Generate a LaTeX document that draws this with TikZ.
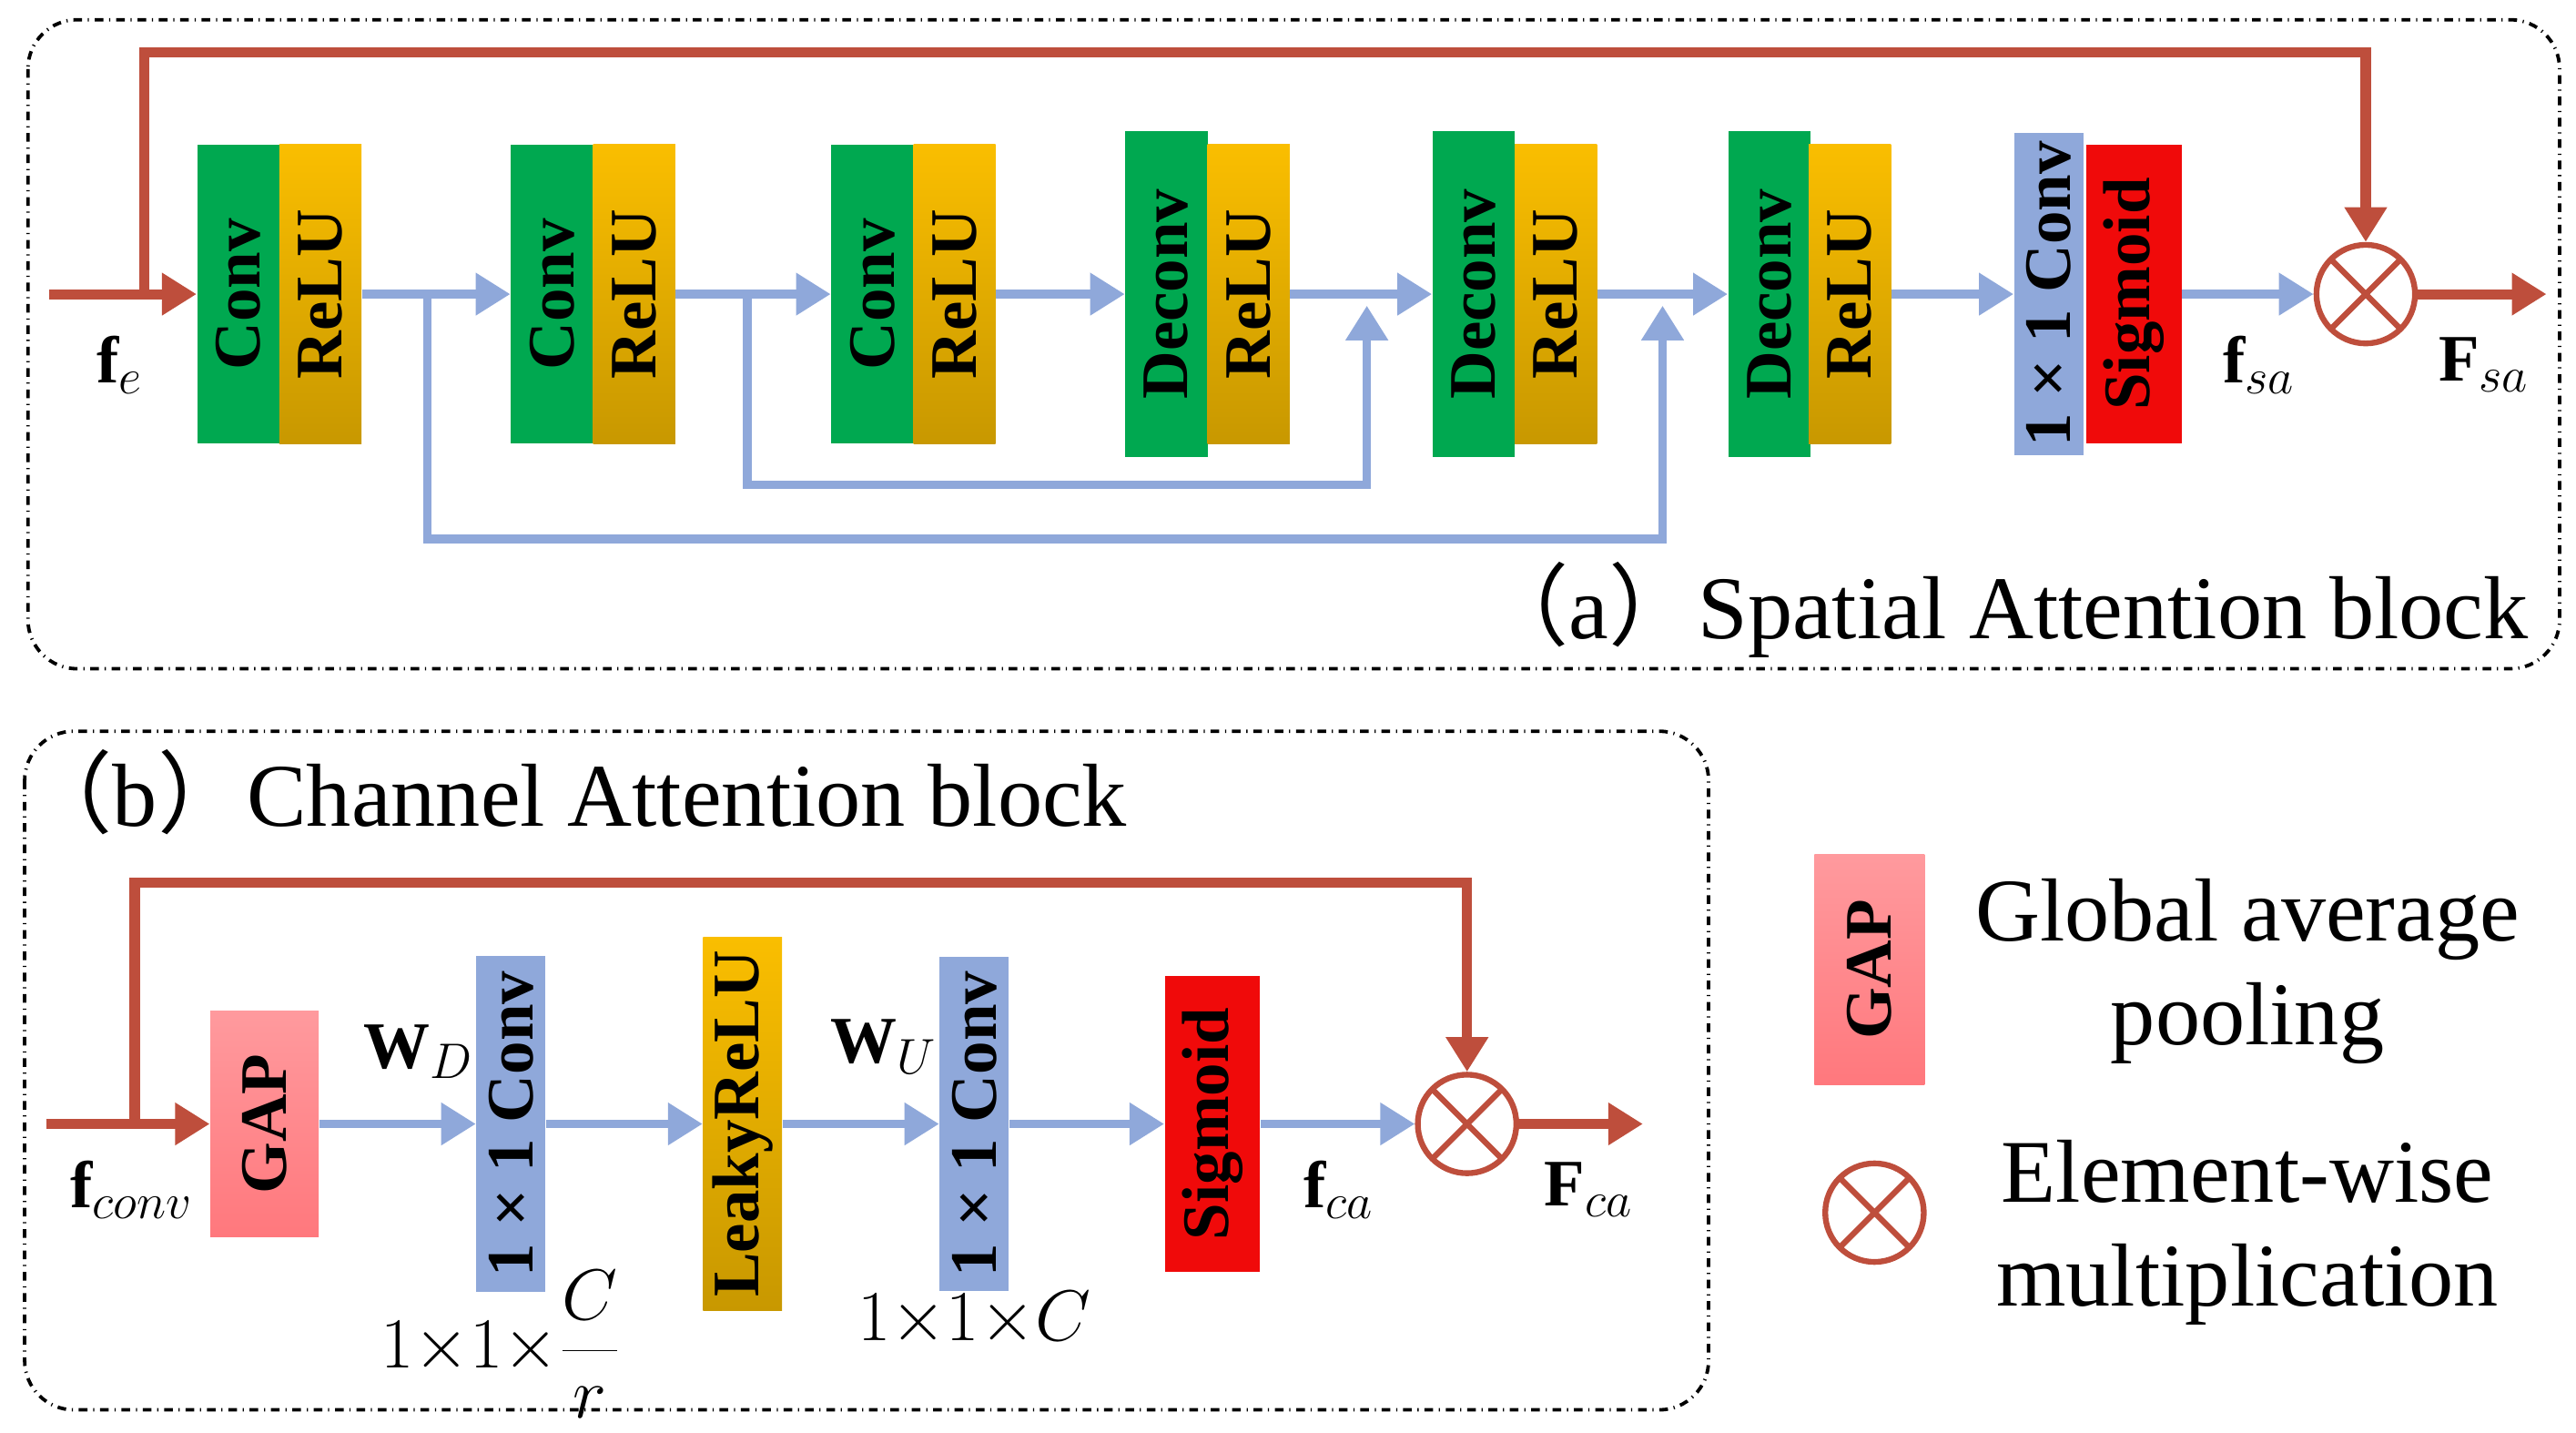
\documentclass[tikz,border=0pt]{standalone}
\usepackage{fontspec}
\setmainfont{Liberation Serif}
\newfontfamily\cjk{Noto Sans CJK SC}
\usetikzlibrary{arrows.meta}
\definecolor{cgreen}{RGB}{0,168,80}
\definecolor{cyellow}{RGB}{250,190,0}
\definecolor{cblue}{RGB}{143,168,218}
\definecolor{cred}{RGB}{240,10,10}
\definecolor{cpink}{RGB}{255,120,125}
\definecolor{carrow}{RGB}{190,78,60}
\tikzset{
  blk/.style={rotate=90, inner sep=0pt, font=\fontsize{23}{23}\selectfont\bfseries},
  conv/.style={blk, fill=cgreen, minimum height=1cm, minimum width=3.64cm},
  deconv/.style={blk, fill=cgreen, minimum height=1cm, minimum width=3.96cm},
  relu/.style={blk, top color=cyellow, bottom color=cyellow!80!black, minimum height=1cm, minimum width=3.64cm},
  bconv/.style={blk, fill=cblue, minimum height=0.84cm},
  sig/.style={blk, fill=cred, minimum height=1.16cm},
  mult/.style={circle, draw=carrow, line width=2pt, minimum size=1.2cm, inner sep=0pt,
    path picture={\draw[carrow, line width=2pt] (path picture bounding box.north west) -- (path picture bounding box.south east)
      (path picture bounding box.north east) -- (path picture bounding box.south west);}},
  barr/.style={cblue, line width=3pt, -{Triangle[length=12pt,width=14pt]}},
  bline/.style={cblue, line width=3pt},
  rarr/.style={carrow, line width=3.5pt, -{Triangle[length=12pt,width=14pt]}},
  rline/.style={carrow, line width=3.5pt},
  frame/.style={dash dot, line width=1.2pt, rounded corners=0.6cm},
  lbl/.style={font=\fontsize{23}{23}\selectfont},
  ttl/.style={font=\fontsize{31}{36}\selectfont}
}
\begin{document}
\begin{tikzpicture}[x=0.02cm, y=-0.02cm]
  \useasboundingbox (0,0) rectangle (1568,872);
  % frames
  \draw[frame] (17,12) rectangle (1558,407);
  \draw[frame] (15,445) rectangle (1040,858);

  % (a) blocks
  \node[conv] (c1) at (145,179) {Conv};
  \node[relu] (r1) at (195,179) {ReLU};
  \node[conv] (c2) at (336,179) {Conv};
  \node[relu] (r2) at (386,179) {ReLU};
  \node[conv] (c3) at (531,179) {Conv};
  \node[relu] (r3) at (581,179) {ReLU};
  \node[deconv] (d4) at (710,179) {Deconv};
  \node[relu] (r4) at (760,179) {ReLU};
  \node[deconv] (d5) at (897,179) {Deconv};
  \node[relu] (r5) at (947,179) {ReLU};
  \node[deconv] (d6) at (1077,179) {Deconv};
  \node[relu] (r6) at (1126,179) {ReLU};
  \node[bconv, minimum width=3.92cm] (p1) at (1247,179) {1 × 1 Conv};
  \node[sig, minimum width=3.64cm] (s1) at (1299,179) {Sigmoid};
  \node[mult] (m1) at (1440,179) {};

  % (a) main path
  \coordinate (in1) at (30,179);
  \coordinate (fb1) at (88,179);
  \coordinate (out1) at (1550,179);
  \draw[rline] (in1) -- (fb1);
  \draw[rarr] (fb1) -- (c1);
  \draw[rarr] (fb1) -- (88,32) -- (1440,32) -- (m1);
  \draw[rarr] (m1) -- (out1);
  \draw[barr] (r1) -- (c2);
  \draw[barr] (r2) -- (c3);
  \draw[barr] (r3) -- (d4);
  \draw[barr] (r4) -- (d5);
  \draw[barr] (r5) -- (d6);
  \draw[barr] (r6) -- (p1);
  \draw[barr] (s1) -- (m1);

  % (a) skips
  \coordinate (sk1) at (260,179);
  \coordinate (sk2) at (455,179);
  \draw[barr] (sk1) -- (260,328) -- (1012,328) -- (1012,186);
  \draw[barr] (sk2) -- (455,295) -- (832,295) -- (832,186);

  \node[lbl] (fe) at (73,222) {$\mathbf{f}_{e}$};
  \node[lbl] (fsa) at (1375,222) {$\mathbf{f}_{sa}$};
  \node[lbl] (Fsa) at (1512,222) {$\mathbf{F}_{sa}$};
  \node[ttl, anchor=east] (ta) at (1545,371) {{\cjk （}a{\cjk ）}Spatial Attention block};

  % (b) blocks
  \node[blk, top color=cpink!75, bottom color=cpink, minimum height=1.32cm, minimum width=2.74cm] (gap) at (161,684) {GAP};
  \node[bconv, minimum width=4.1cm] (p2) at (311,684) {1 × 1 Conv};
  \node[blk, top color=cyellow, bottom color=cyellow!80!black, minimum height=0.96cm, minimum width=4.54cm] (lr) at (452,684) {LeakyReLU};
  \node[bconv, minimum width=4.06cm] (p3) at (593,684) {1 × 1 Conv};
  \node[sig, minimum width=3.6cm] (s2) at (738,684) {Sigmoid};
  \node[mult] (m2) at (893,684) {};

  \coordinate (in2) at (28,684);
  \coordinate (fb2) at (82,684);
  \coordinate (out2) at (1000,684);
  \draw[rline] (in2) -- (fb2);
  \draw[rarr] (fb2) -- (gap);
  \draw[rarr] (fb2) -- (82,537) -- (893,537) -- (m2);
  \draw[rarr] (m2) -- (out2);
  \draw[barr] (gap) -- (p2);
  \draw[barr] (p2) -- (lr);
  \draw[barr] (lr) -- (p3);
  \draw[barr] (p3) -- (s2);
  \draw[barr] (s2) -- (m2);

  \node[lbl] (fconv) at (80,724) {$\mathbf{f}_{conv}$};
  \node[lbl] (wd) at (255,640) {$\mathbf{W}_{D}$};
  \node[lbl] (wu) at (538,637) {$\mathbf{W}_{U}$};
  \node[lbl] (fca) at (815,724) {$\mathbf{f}_{ca}$};
  \node[lbl] (Fca) at (967,724) {$\mathbf{F}_{ca}$};
  \node[lbl] (dimd) at (305,818) {$1{\times}1{\times}\displaystyle\frac{C}{r}$};
  \node[lbl] (dimu) at (593,803) {$1{\times}1{\times}C$};
  \node[ttl, anchor=west] (tb) at (8,482) {{\cjk （}b{\cjk ）}Channel Attention block};

  % legend
  \node[blk, top color=cpink!75, bottom color=cpink, minimum height=1.34cm, minimum width=2.8cm] (lgap) at (1138,590) {GAP};
  \node[ttl, align=center] (lgt) at (1368,591) {Global average\\pooling};
  \node[mult] (lm) at (1141,738) {};
  \node[ttl, align=center] (lmt) at (1368,750) {Element-wise\\multiplication};
\end{tikzpicture}
\end{document}
